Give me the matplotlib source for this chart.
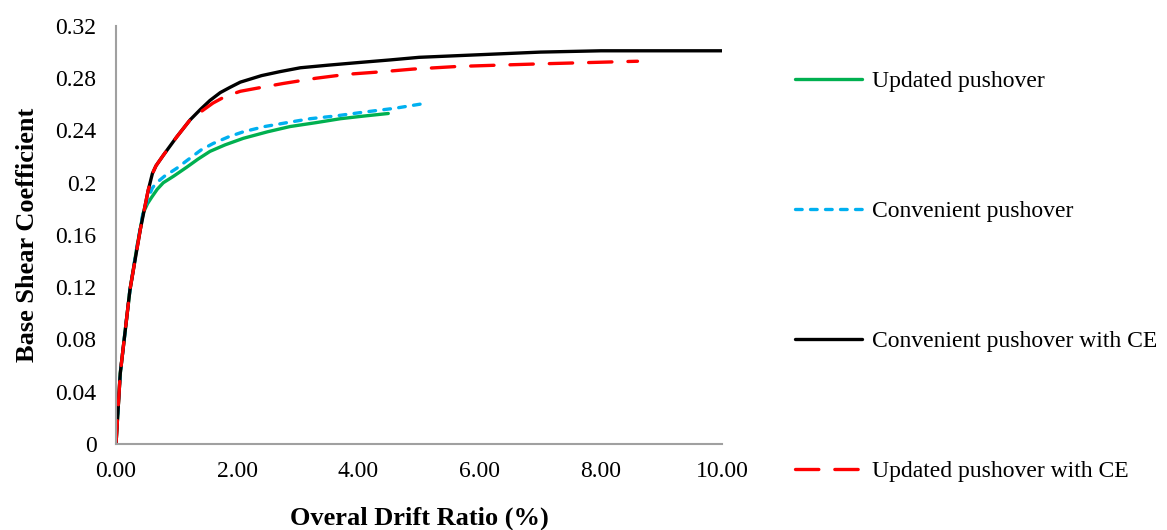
import matplotlib
matplotlib.use("Agg")
import matplotlib.pyplot as plt

plt.rcParams.update({
    "font.family": ["Liberation Serif", "DejaVu Serif"],
    "font.size": 17,
})

upd_x = [0, 0.07, 0.23, 0.35, 0.45, 0.52, 0.59, 0.68, 0.78, 0.95, 1.17, 1.35, 1.55,
         1.8, 2.1, 2.5, 2.87, 3.3, 3.7, 4.08, 4.49]
upd_y = [0, 0.054, 0.118, 0.152, 0.177, 0.184, 0.189, 0.195, 0.200, 0.205, 0.212, 0.218,
         0.224, 0.229, 0.234, 0.239, 0.243, 0.246, 0.249, 0.251, 0.253]

conv_x = [0, 0.07, 0.23, 0.35, 0.45, 0.53, 0.60, 0.67, 0.8, 1.0, 1.17, 1.4, 1.6, 1.85,
          2.1, 2.45, 2.82, 3.2, 3.6, 4.08, 4.6, 5.13]
conv_y = [0, 0.054, 0.118, 0.152, 0.178, 0.188, 0.196, 0.200, 0.205, 0.211, 0.217, 0.225,
          0.230, 0.235, 0.239, 0.243, 0.246, 0.249, 0.251, 0.254, 0.257, 0.261]

ce_x = [0, 0.07, 0.23, 0.40, 0.53, 0.60, 0.66, 0.78, 1.0, 1.22, 1.39, 1.55, 1.72, 1.88,
        2.05, 2.4, 2.7, 3.04, 3.5, 4.0, 4.52, 5.0, 6.0, 7.0, 8.0, 9.0, 10.0]
ce_y = [0, 0.054, 0.118, 0.164, 0.194, 0.207, 0.213, 0.221, 0.235, 0.248, 0.256, 0.263,
        0.269, 0.273, 0.277, 0.282, 0.285, 0.288, 0.290, 0.292, 0.294, 0.296, 0.298,
        0.300, 0.301, 0.301, 0.301]

updce_x = [0, 0.07, 0.23, 0.40, 0.53, 0.60, 0.66, 0.78, 1.0, 1.22, 1.39, 1.6, 1.8, 2.05,
           2.4, 2.76, 3.3, 3.81, 4.4, 4.9, 5.63, 6.3, 7.0, 7.8, 8.6]
updce_y = [0, 0.054, 0.118, 0.164, 0.194, 0.207, 0.213, 0.221, 0.235, 0.248, 0.254, 0.261,
           0.266, 0.270, 0.273, 0.276, 0.280, 0.283, 0.285, 0.287, 0.289, 0.290, 0.291,
           0.292, 0.293]

x_ticks = [0, 2, 4, 6, 8, 10]
y_ticks = [0, 0.04, 0.08, 0.12, 0.16, 0.2, 0.24, 0.28, 0.32]
y_labels = ["0", "0.04", "0.08", "0.12", "0.16", "0.2", "0.24", "0.28", "0.32"]

fig = plt.figure(figsize=(11.67, 5.30), dpi=100)
ax = fig.add_axes([0.0994, 0.1623, 0.5196, 0.7887])

lw = 2.4
ax.plot(upd_x, upd_y, "-", color="#00B050", lw=lw, solid_capstyle="round",
        label="Updated pushover")
ax.plot(conv_x, conv_y, color="#00B0F0", lw=lw, dashes=(2.0, 2.5),
        dash_capstyle="round", label="Convenient pushover")
ax.plot(ce_x, ce_y, "-", color="black", lw=lw, solid_capstyle="round",
        label="Convenient pushover with CE")
ax.plot(updce_x, updce_y, color="#FF0000", lw=lw, dashes=(7.0, 4.8),
        dash_capstyle="round", label="Updated pushover with CE")

ax.set_xlim(0, 10)
ax.set_ylim(0, 0.32)
ax.set_xticks(x_ticks)
ax.set_xticklabels([f"{v:.2f}" for v in x_ticks])
ax.set_yticks(y_ticks)
ax.set_yticklabels(y_labels)
ax.tick_params(length=0, labelsize=17)
ax.tick_params(axis="y", pad=14)
ax.tick_params(axis="x", pad=12)
for s in ("top", "right"):
    ax.spines[s].set_visible(False)
for s in ("left", "bottom"):
    ax.spines[s].set_color("#A0A0A0")
    ax.spines[s].set_linewidth(1.5)

ax.set_xlabel("Overal Drift Ratio (%)", fontsize=19, fontweight="bold", labelpad=18)
ax.set_ylabel("Base Shear Coefficient", fontsize=19, fontweight="bold", labelpad=12)

fig.legend(loc="upper left", bbox_to_anchor=(0.673, 0.885), frameon=False,
           fontsize=17, labelspacing=4.6, handlelength=2.84, handletextpad=0.42,
           borderaxespad=0)

fig.savefig("out.png", dpi=100)
